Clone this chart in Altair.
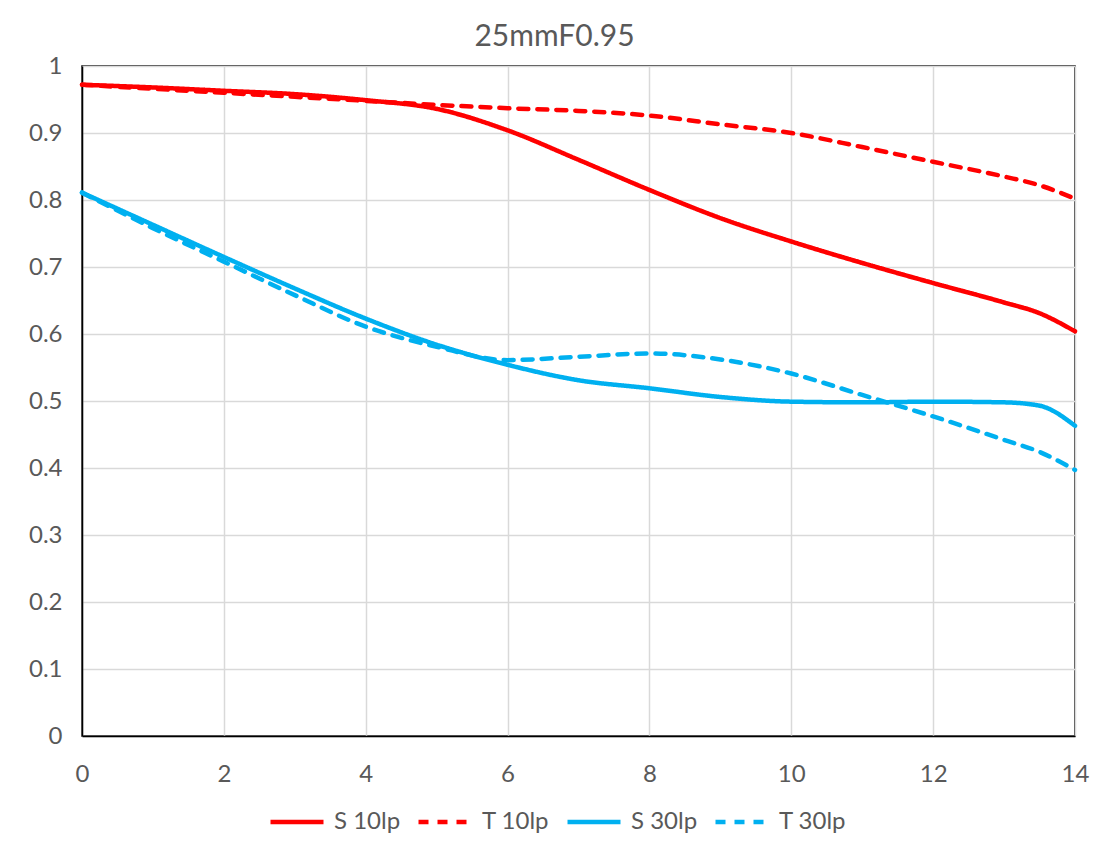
import altair as alt
import pandas as pd

x_vals = [0, 1, 2, 3, 4, 5, 6, 7, 8, 9, 10, 11, 12, 13, 13.5, 14]
s10 = [0.972, 0.968, 0.963, 0.958, 0.949, 0.936, 0.904, 0.860, 0.815, 0.773, 0.738, 0.706, 0.676, 0.647, 0.631, 0.604]
t10 = [0.972, 0.966, 0.960, 0.954, 0.948, 0.942, 0.937, 0.933, 0.926, 0.913, 0.900, 0.879, 0.857, 0.835, 0.822, 0.802]
s30 = [0.811, 0.763, 0.715, 0.668, 0.623, 0.584, 0.554, 0.531, 0.519, 0.506, 0.499, 0.498, 0.499, 0.498, 0.493, 0.463]
t30 = [0.811, 0.758, 0.708, 0.658, 0.611, 0.581, 0.561, 0.566, 0.571, 0.562, 0.541, 0.509, 0.477, 0.442, 0.424, 0.397]
series_names = ["S 10lp", "T 10lp", "S 30lp", "T 30lp"]
series_colors = ["#FF0000", "#FF0000", "#00B0F0", "#00B0F0"]
series_dash = [[1, 0], [10, 9], [1, 0], [10, 9]]

rows = []
for name, vals in zip(series_names, [s10, t10, s30, t30]):
    for i, (xv, yv) in enumerate(zip(x_vals, vals)):
        rows.append({"x": xv, "y": yv, "series": name, "order": i})
df = pd.DataFrame(rows)

FONT = "Lato"
GRAY = "#595959"

chart = alt.Chart(df).mark_line(
    strokeWidth=4.5, interpolate="monotone", strokeCap="round"
).encode(
    x=alt.X("x:Q", scale=alt.Scale(domain=[0, 14], nice=False),
            axis=alt.Axis(values=[0, 2, 4, 6, 8, 10, 12, 14], title=None, grid=True, labelFlush=False,
                          ticks=False, labelPadding=26, domainColor="#000000", domainWidth=1.5)),
    y=alt.Y("y:Q", scale=alt.Scale(domain=[0, 1], nice=False),
            axis=alt.Axis(values=[i / 10 for i in range(11)], format=".1~f", title=None, grid=True,
                          ticks=False, labelPadding=20, domainColor="#000000", domainWidth=1.5)),
    color=alt.Color("series:N", scale=alt.Scale(domain=series_names, range=series_colors), title=None),
    strokeDash=alt.StrokeDash("series:N", scale=alt.Scale(domain=series_names, range=series_dash), title=None),
    detail="series:N",
    order="order:Q",
).properties(
    width=993,
    height=670,
    autosize="none",
    padding={"left": 74, "top": 58, "right": 29, "bottom": 114},
    title=alt.TitleParams("25mmF0.95", fontSize=30, color=GRAY, font=FONT, fontWeight="normal",
                          offset=2, dx=-24),
).configure_axis(
    labelFont=FONT, labelFontSize=24, labelColor=GRAY,
    gridColor="#d9d9d9", gridWidth=1.5,
).configure_view(
    stroke="#000000", strokeWidth=1.5,
).configure_legend(
    orient="none", legendX=186, legendY=727, direction="horizontal",
    symbolType="stroke", symbolSize=2809, symbolStrokeWidth=4.5,
    labelFont=FONT, labelFontSize=24, labelColor=GRAY, labelOffset=8,
    columnPadding=8,
)

chart.save("out.html", embed_options={"renderer": "svg", "actions": False})
